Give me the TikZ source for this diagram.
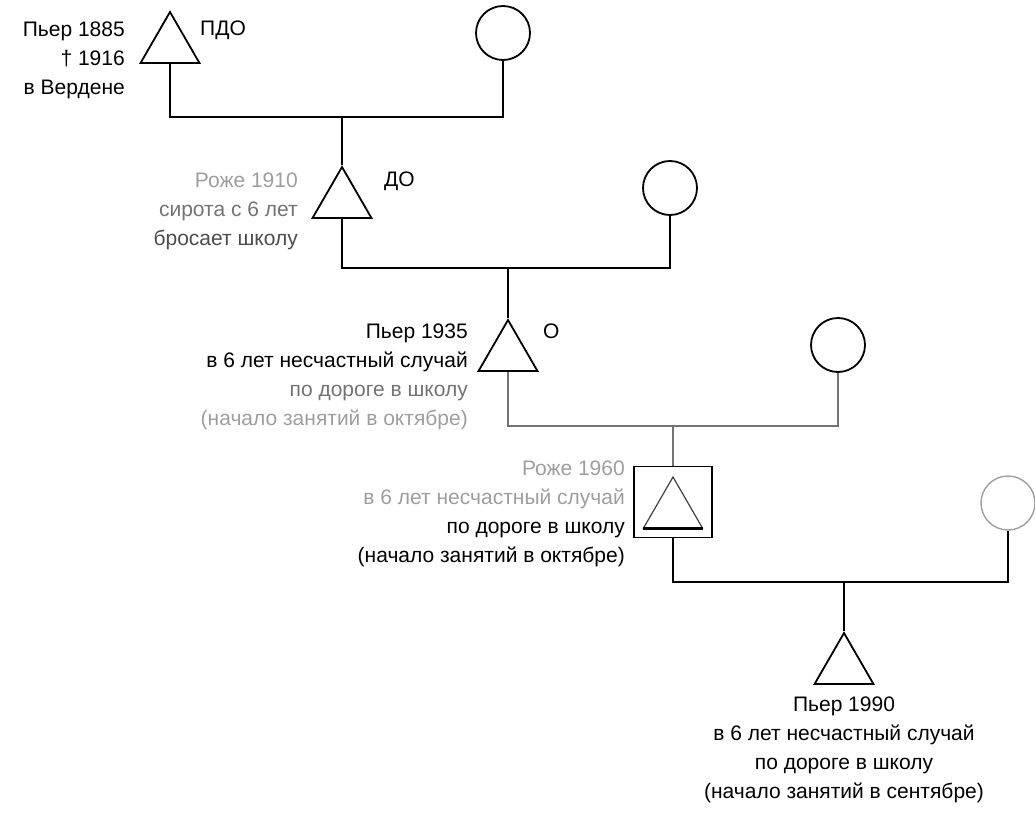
\documentclass[tikz,border=0pt]{standalone}
\usepackage{fontspec}
\setmainfont{Liberation Sans}
\usepackage{xcolor}
\usepackage{tikz}
\usetikzlibrary{shapes.geometric,calc,positioning}
\definecolor{faded}{gray}{0.45}
\definecolor{pale}{gray}{0.62}
\begin{document}
\begin{tikzpicture}[
	x=1pt, y=-1pt,
	male/.style = {regular polygon, regular polygon sides=3,
	minimum size=68pt, inner sep=0pt, draw, line width=1.8pt},
	female/.style = {circle, minimum size=54pt, inner sep=0pt,
	draw, line width=1.8pt},
	persontext/.style = {font=\fontsize{21}{29}\selectfont, inner sep=0pt},
	tie/.style = {line width=1.8pt}
]
\useasboundingbox (0,0) rectangle (1035,813);
% generation 1
\node[male] (pierre1) at (170,46) {};
\node[female] (wife1) at (503,33) {};
\node[persontext, align=right, anchor=east] (pierre1txt) at (125,60)
	{Пьер 1885\\† 1916\\в Вердене};
\node[persontext, anchor=west] (pierre1tag) at (200,30) {ПДО};
\coordinate (tie1) at (342,117);
\draw[tie] (pierre1.south) |- (tie1) -| (wife1.south);
% generation 2
\node[male] (roger1) at (342,201) {};
\node[female] (wife2) at (670,188) {};
\node[persontext, align=right, anchor=east] (roger1txt) at (298,211)
	{\textcolor{pale}{Роже 1910}\\\textcolor{faded}{сирота с 6 лет}\\
	\textcolor{black!70}{бросает школу}};
\node[persontext, anchor=west] (roger1tag) at (384,181) {ДО};
\coordinate (tie2) at (508,268);
\draw[tie] (tie1) -- (roger1.north);
\draw[tie] (roger1.south) |- (tie2) -| (wife2.south);
% generation 3
\node[male] (pierre2) at (508,354) {};
\node[female] (wife3) at (838,345) {};
\node[persontext, align=right, anchor=east] (pierre2txt) at (468,377)
	{Пьер 1935\\в 6 лет несчастный случай\\
	\textcolor{faded}{по дороге в школу}\\\textcolor{pale}{(начало занятий в октябре)}};
\node[persontext, anchor=west] (pierre2tag) at (543,331) {О};
\coordinate (tie3) at (673,426);
\draw[tie] (tie2) -- (pierre2.north);
\draw[line width=1.2pt, faded] (pierre2.south) |- (tie3) -| (wife3.south);
% generation 4
\node[draw, line width=1.8pt, minimum width=78pt, minimum height=71pt,
	inner sep=0pt] (rogerbox) at (673,502) {};
\node[male, line width=1.2pt, draw=black!75] (roger2) at (673,511) {};
\draw[line width=3.2pt] (roger2.corner 2) -- (roger2.corner 3);
\node[female, line width=1.4pt, draw=pale] (wife4) at (1008,503) {};
\node[persontext, align=right, anchor=east] (roger2txt) at (625,514)
	{\textcolor{pale}{Роже 1960}\\\textcolor{pale}{в 6 лет несчастный случай}\\
	по дороге в школу\\(начало занятий в октябре)};
\coordinate (tie4) at (844,582);
\draw[line width=1.2pt, faded] (tie3) -- (rogerbox.north);
\draw[line width=2.2pt] (rogerbox.south) |- (tie4) -| (wife4.south);
% generation 5
\node[male] (pierre3) at (844,667) {};
\node[persontext, align=center, anchor=north] (pierre3txt) at (844,697)
	{Пьер 1990\\в 6 лет несчастный случай\\по дороге в школу\\
	(начало занятий в сентябре)};
\draw[tie] (tie4) -- (pierre3.north);
\end{tikzpicture}
\end{document}
